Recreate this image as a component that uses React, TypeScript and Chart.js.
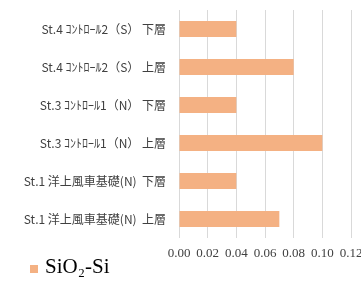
import React, { useEffect, useRef } from "react";
import { Chart, registerables } from "chart.js";

Chart.register(...registerables);

const categories = [
  "St.4 ｺﾝﾄﾛｰﾙ2（S） 下層",
  "St.4 ｺﾝﾄﾛｰﾙ2（S） 上層",
  "St.3 ｺﾝﾄﾛｰﾙ1（N） 下層",
  "St.3 ｺﾝﾄﾛｰﾙ1（N） 上層",
  "St.1 洋上風車基礎(N)  下層",
  "St.1 洋上風車基礎(N)  上層",
];
const seriesName = "SiO₂-Si";
const sioValues = [0.04, 0.08, 0.04, 0.1, 0.04, 0.07];
const xTicks = [0, 0.02, 0.04, 0.06, 0.08, 0.1, 0.12];

const legendPlugin = {
  id: "bottomLegend",
  afterDraw(chart: any) {
    const ctx = chart.ctx;
    const ds = chart.data.datasets[0];
    ctx.save();
    ctx.fillStyle = ds.backgroundColor;
    ctx.fillRect(30, 265, 8, 8);
    ctx.fillStyle = "#000";
    ctx.font = "21px 'Liberation Serif', serif";
    ctx.textBaseline = "alphabetic";
    ctx.textAlign = "left";
    ctx.fillText(ds.label, 45, 273);
    ctx.restore();
  },
};

export default function App() {
  const ref = useRef<HTMLCanvasElement | null>(null);
  useEffect(() => {
    if (!ref.current) return;
    const chart = new Chart(ref.current, {
      type: "bar",
      data: {
        labels: categories,
        datasets: [
          {
            label: seriesName,
            data: sioValues,
            backgroundColor: "#F4B183",
            borderWidth: 0,
            categoryPercentage: 1,
            barPercentage: 0.42,
          },
        ],
      },
      plugins: [legendPlugin],
      options: {
        indexAxis: "y",
        animation: false,
        responsive: false,
        layout: { padding: { top: 10, right: 10, left: 20, bottom: 21 } },
        scales: {
          x: {
            min: 0,
            max: 0.12,
            afterBuildTicks: (axis: any) => {
              axis.ticks = xTicks.map((v) => ({ value: v }));
            },
            afterFit: (axis: any) => {
              axis.paddingRight = 0;
              axis.paddingLeft = 0;
              axis.height = 24;
            },
            ticks: {
              callback: (v: any) => Number(v).toFixed(2),
              font: { family: "'Liberation Serif', serif", size: 13 },
              color: "#404040",
              padding: 8,
              maxRotation: 0,
              minRotation: 0,
              autoSkip: false,
            },
            grid: { color: "#d9d9d9", lineWidth: 1, drawTicks: false },
            border: { display: false },
          },
          y: {
            afterFit: (axis: any) => {
              axis.width = 159;
              axis.paddingTop = 0;
              axis.paddingBottom = 0;
            },
            ticks: {
              font: { family: "'Noto Sans CJK JP', sans-serif", size: 12 },
              color: "#404040",
              padding: 13,
            },
            grid: { display: false, drawTicks: false },
            border: { display: false },
          },
        },
        plugins: {
          legend: { display: false },
          tooltip: { enabled: false },
        },
      },
    });
    return () => chart.destroy();
  }, []);
  return (
    <div style={{ position: "absolute", left: 0, top: 0, width: 361, height: 283, background: "#fff" }}>
      <canvas ref={ref} width={361} height={283} style={{ width: 361, height: 283 }} />
    </div>
  );
}
